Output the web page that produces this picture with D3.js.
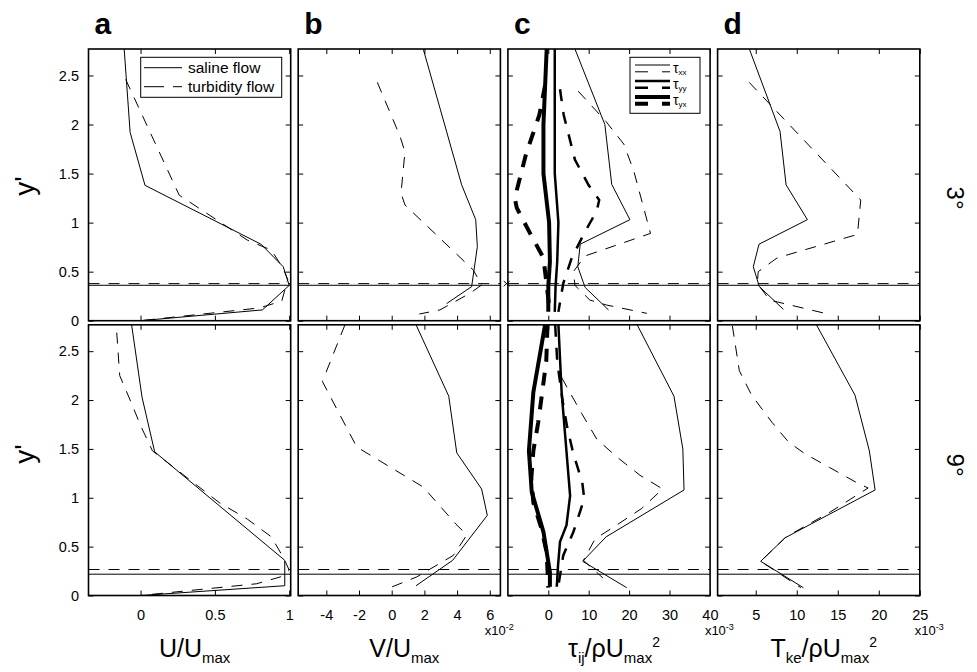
<!DOCTYPE html>
<html>
<head>
<meta charset="utf-8">
<script src="https://cdnjs.cloudflare.com/ajax/libs/d3/7.8.5/d3.min.js"></script>
<style>
  body { margin: 0; background: #fff; }
  svg { display: block; font-family: "Liberation Sans", Arial, Helvetica, sans-serif; }
</style>
</head>
<body>
<svg id="chart" width="977" height="672"></svg>
<script>
//********DATA**********//
// every profile is [value, y'] ; b is in x10^-2, c and d in x10^-3
const yTicks = [0, 0.5, 1, 1.5, 2, 2.5];
const uTicks = [0, 0.5, 1];
const vTicks = [-4, -2, 0, 2, 4, 6];
const tauTicks = [0, 10, 20, 30, 40];
const tkeTicks = [5, 10, 15, 20, 25];
const rowLabels = ['3°', '9°'];
const panelLetters = ['a', 'b', 'c', 'd'];

// a : U/Umax
const uSaline3 = [[-0.11,2.77],[-0.07,1.92],[0.03,1.38],[0.81,0.78],[0.96,0.55],[1.0,0.36],[0.82,0.11],[0,0]];
const uTurbid3 = [[-0.1,2.46],[0.26,1.28],[0.72,0.82],[0.88,0.72],[0.96,0.53],[0.99,0.42],[0.95,0.2],[0.8,0.13],[0,0]];
const uSaline9 = [[-0.06,2.77],[0.01,2.03],[0.095,1.47],[0.97,0.36],[0.97,0.1],[0,0]];
const uTurbid9 = [[-0.16,2.69],[-0.14,2.25],[-0.07,2.0],[0.0,1.74],[0.08,1.48],[0.53,0.95],[0.72,0.78],[0.88,0.6],[0.96,0.39],[1.0,0.26],[0.94,0.19],[0.78,0.12],[0,0]];

// b : V/Umax (x10^-2)
const vSaline3 = [[1.93,2.77],[4.28,1.385],[5.14,1.03],[5.24,0.755],[4.89,0.347],[3.36,0.175]];
const vTurbid3 = [[-0.88,2.43],[0.51,1.88],[0.81,1.72],[0.57,1.3],[0.81,1.18],[4.99,0.517],[5.5,0.364],[4.79,0.28],[2.95,0.11],[1.69,0.068]];
const vSaline9 = [[1.49,2.77],[3.49,2.04],[3.98,1.46],[5.5,1.09],[5.85,0.82],[3.73,0.36],[1.49,0.1]];
const vTurbid9 = [[-2.86,2.77],[-4.24,2.19],[-2.14,1.52],[1.93,1.11],[3.93,0.73],[4.6,0.62],[3.77,0.41],[1.53,0.19],[-0.1,0.08]];

// c : tau_ij/rho Umax^2 (x10^-3)
const txxSolid3 = [[6.6,2.77],[14,2.0],[15.7,1.39],[20.2,1.03],[7.9,0.78],[7.3,0.55],[9.1,0.34],[14.9,0.11]];
const txxDash3 = [[7.4,2.34],[14.3,2.03],[18.7,1.8],[21.2,1.52],[25.3,0.89],[9.1,0.66],[6.2,0.5],[6.6,0.36],[10.3,0.21],[14.4,0.16],[24.4,0.075]];
const tyySolid3 = [[1.6,2.77],[1.6,1.5],[2.5,1.0],[2.2,0.6],[1.8,0.35],[1.6,0.09]];
const tyyDash3 = [[2.9,2.36],[3.8,2.1],[6.6,1.64],[10,1.38],[12.6,1.23],[12,1.12],[9,0.9],[5.8,0.64],[3.7,0.38],[2.5,0.09]];
const tyxSolid3 = [[-0.4,2.77],[-1.2,2.0],[-1.2,1.5],[0.2,1.0],[0.4,0.6],[0,0.35],[0,0.09]];
const tyxDash3 = [[-0.8,2.4],[-2.2,2.1],[-5.5,1.7],[-8.3,1.25],[-7.8,1.15],[-4.5,0.89],[-1.2,0.64],[-0.4,0.36],[0.4,0.09]];
const txxSolid9 = [[22,2.77],[31.1,2.04],[33.3,1.5],[33.6,1.08],[14.3,0.6],[8.5,0.35],[19.4,0.08]];
const txxDash9 = [[3.3,2.23],[8.3,1.86],[12,1.6],[16.9,1.42],[22.7,1.23],[28.3,1.09],[23.1,0.89],[16.9,0.72],[11.6,0.58],[8.7,0.36],[13.5,0.18]];
const tyySolid9 = [[2.5,2.77],[3.3,2.08],[5.4,1.02],[4.5,0.72],[2.9,0.55],[2.4,0.3],[2.1,0.09]];
const tyyDash9 = [[1.7,2.77],[2.2,2.4],[3.5,2.0],[4.6,1.74],[6.2,1.45],[8.4,1.16],[8.9,0.99],[6.2,0.65],[3.7,0.41],[2.5,0.1]];
const tyxSolid9 = [[-0.8,2.77],[-3.7,2.08],[-4.8,1.48],[-4.1,1.06],[-1.2,0.65],[0.4,0.24],[0.4,0.09]];
const tyxDash9 = [[-0.2,2.77],[-0.5,2.4],[-1.6,2.05],[-2.5,1.77],[-3.7,1.48],[-4.2,1.2],[-3.7,0.95],[-1.8,0.7],[-0.4,0.44],[0,0.08]];

// d : Tke/rho Umax^2 (x10^-3)
const tkeSaline3 = [[4.22,2.77],[7.96,1.93],[8.7,1.385],[11.3,1.03],[5.4,0.78],[4.7,0.55],[5.44,0.347],[8.37,0.116]];
const tkeTurbid3 = [[4.2,2.43],[17.8,1.23],[17.4,0.88],[7.6,0.64],[5.3,0.5],[5.2,0.38],[6.7,0.21],[13.7,0.07]];
const tkeSaline9 = [[12.4,2.77],[17.1,2.05],[18.85,1.48],[19.55,1.08],[8.57,0.59],[5.6,0.35],[10.8,0.08]];
const tkeTurbid9 = [[2.15,2.76],[3.0,2.3],[4.5,2.05],[7,1.77],[9,1.57],[11,1.45],[14,1.31],[17.2,1.16],[18.7,1.1],[14,0.85],[8.7,0.6],[5.6,0.35],[10.5,0.08]];

// current head heights (y') per row
const headSaline = [0.361, 0.218];
const headTurbid = [0.378, 0.266];
const strayMark = [-10.3, 0.378];   // the lone x marker on panel c, row 1

//********LAYOUT**********//
const W = 977, H = 672;
const ROW_Y = [[49, 320.7], [324.8, 595.5]];
const COL_X = [88.5, 298.2, 507.9, 717.6];
const PANEL_W = 202.2;
const Y_MAX = 2.77;
const FONT = '"Liberation Sans", Arial, Helvetica, sans-serif';

const STYLE = {
  thin:      {w: 1,   dash: null},
  thinDash:  {w: 1,   dash: '11,9'},
  mid:       {w: 2.5, dash: null},
  midDash:   {w: 2.5, dash: '12,11'},
  thick:     {w: 4,   dash: null},
  thickDash: {w: 4,   dash: '13,11'}
};

const panels = [
  {domain: [-0.35, 1.01], ticks: uTicks, mult: null,
   title: [['U/U','n'],['max','sub']],
   series: [[[uSaline3,'thin'],[uTurbid3,'thinDash']],
            [[uSaline9,'thin'],[uTurbid9,'thinDash']]]},
  {domain: [-5.72, 6.65], ticks: vTicks, mult: '-2',
   title: [['V/U','n'],['max','sub']],
   series: [[[vSaline3,'thin'],[vTurbid3,'thinDash']],
            [[vSaline9,'thin'],[vTurbid9,'thinDash']]]},
  {domain: [-10, 40.05], ticks: tauTicks, mult: '-3',
   title: [['τ','n'],['ij','sub'],['/ρU','n'],['max','sub'],['2','sup']],
   series: [[[txxSolid3,'thin'],[txxDash3,'thinDash'],[tyySolid3,'mid'],[tyyDash3,'midDash'],[tyxSolid3,'thick'],[tyxDash3,'thickDash']],
            [[txxSolid9,'thin'],[txxDash9,'thinDash'],[tyySolid9,'mid'],[tyyDash9,'midDash'],[tyxSolid9,'thick'],[tyxDash9,'thickDash']]]},
  {domain: [0.35, 25], ticks: tkeTicks, mult: '-3',
   title: [['T','n'],['ke','sub'],['/ρU','n'],['max','sub'],['2','sup']],
   series: [[[tkeSaline3,'thin'],[tkeTurbid3,'thinDash']],
            [[tkeSaline9,'thin'],[tkeTurbid9,'thinDash']]]}
];

const svg = d3.select('#chart')
    .attr('font-family', FONT);

svg.append('rect')
    .attr('width', W)
    .attr('height', H)
    .attr('fill', '#fff');

const defs = svg.append('defs');

//********PANELS**********//
panels.forEach((p, ci) => {
  const x0 = COL_X[ci], x1 = x0 + PANEL_W;
  const x = d3.scaleLinear().domain(p.domain).range([x0, x1]);

  ROW_Y.forEach((ry, ri) => {
    const y = d3.scaleLinear().domain([0, Y_MAX]).range([ry[1], ry[0]]);
    const clipId = `clip-${ci}-${ri}`;
    defs.append('clipPath').attr('id', clipId)
      .append('rect')
        .attr('x', x0).attr('y', ry[0])
        .attr('width', PANEL_W).attr('height', ry[1] - ry[0]);

    const g = svg.append('g');
    const plot = g.append('g').attr('clip-path', `url(#${clipId})`);

    // head height lines
    plot.append('line')
        .attr('x1', x0).attr('x2', x1)
        .attr('y1', y(headTurbid[ri])).attr('y2', y(headTurbid[ri]))
        .attr('stroke', '#000').attr('stroke-width', 1)
        .attr('stroke-dasharray', STYLE.thinDash.dash);
    plot.append('line')
        .attr('x1', x0).attr('x2', x1)
        .attr('y1', y(headSaline[ri])).attr('y2', y(headSaline[ri]))
        .attr('stroke', '#000').attr('stroke-width', 1);

    const line = d3.line()
        .x(d => x(d[0]))
        .y(d => y(d[1]));

    plot.selectAll('path.profile')
      .data(p.series[ri])
      .enter().append('path')
        .attr('class', 'profile')
        .attr('d', d => line(d[0]))
        .attr('fill', 'none')
        .attr('stroke', '#000')
        .attr('stroke-width', d => STYLE[d[1]].w)
        .attr('stroke-dasharray', d => STYLE[d[1]].dash)
        .attr('stroke-linejoin', 'miter');

    // axes, ticks pointing inward on all four sides
    g.append('g')
        .attr('transform', `translate(0,${ry[1]})`)
        .call(d3.axisBottom(x).tickValues(p.ticks)
          .tickSizeInner(-5).tickSizeOuter(0).tickPadding(14)
          .tickFormat(ri === 1 ? (d => String(d)) : () => ''));
    g.append('g')
        .attr('transform', `translate(0,${ry[0]})`)
        .call(d3.axisTop(x).tickValues(p.ticks)
          .tickSizeInner(-5).tickSizeOuter(0).tickFormat(() => ''));
    g.append('g')
        .attr('transform', `translate(${x0},0)`)
        .call(d3.axisLeft(y).tickValues(yTicks)
          .tickSizeInner(-5).tickSizeOuter(0).tickPadding(9.5)
          .tickFormat(ci === 0 ? (d => String(d)) : () => ''));
    g.append('g')
        .attr('transform', `translate(${x1},0)`)
        .call(d3.axisRight(y).tickValues(yTicks)
          .tickSizeInner(-5).tickSizeOuter(0).tickFormat(() => ''));

    g.selectAll('.domain').remove();
    g.selectAll('.tick line').attr('stroke', '#000').attr('stroke-width', 1);
    g.selectAll('.tick text')
        .attr('fill', '#000')
        .attr('font-size', 14.5)
        .attr('font-family', FONT);

    g.append('rect')
        .attr('x', x0).attr('y', ry[0])
        .attr('width', PANEL_W).attr('height', ry[1] - ry[0])
        .attr('fill', 'none')
        .attr('stroke', '#000')
        .attr('stroke-width', 1.6);

    // stray marker on c, upper row
    if (ci === 2 && ri === 0) {
      const mx = x(strayMark[0]), my = y(strayMark[1]);
      g.append('path')
          .attr('d', `M${mx-3},${my-2.5}L${mx+3},${my+2.5}M${mx-3},${my+2.5}L${mx+3},${my-2.5}`)
          .attr('stroke', '#000').attr('stroke-width', 1);
    }
  });

  // panel letter
  svg.append('text')
      .attr('x', x0 + 6)
      .attr('y', 34)
      .attr('font-size', 30)
      .attr('font-weight', 'bold')
      .text(panelLetters[ci]);

  // axis title with sub/superscripts
  const title = svg.append('text')
      .attr('x', x0 + PANEL_W / 2 + 5)
      .attr('y', 657)
      .attr('text-anchor', 'middle')
      .attr('font-size', 25);
  let shift = 0;
  p.title.forEach(([s, k]) => {
    const target = k === 'sub' ? 6 : k === 'sup' ? -10 : 0;
    title.append('tspan')
        .attr('dy', target - shift)
        .attr('font-size', k === 'n' ? 25 : (k === 'sub' ? 15 : 14))
        .text(s);
    shift = target;
  });

  // exponent note
  if (p.mult) {
    const last = p.ticks[p.ticks.length - 1];
    const note = svg.append('text')
        .attr('x', x(last) - 5)
        .attr('y', 635)
        .attr('font-size', 13)
        .text('x10');
    note.append('tspan')
        .attr('dy', -5)
        .attr('font-size', 9)
        .text(p.mult);
  }
});

//********Y LABELS / ROW LABELS**********//
const yLabelY = [186, 454];
ROW_Y.forEach((ry, ri) => {
  svg.append('text')
      .attr('transform', `translate(34,${yLabelY[ri]}) rotate(-90)`)
      .attr('text-anchor', 'middle')
      .attr('font-size', 28)
      .text("y'");
  svg.append('text')
      .attr('transform', `translate(947,${ri === 0 ? 198 : 465}) rotate(90)`)
      .attr('text-anchor', 'middle')
      .attr('font-size', 24)
      .text(rowLabels[ri]);
});

//********LEGENDS**********//
(function () {
  // a : flows
  const g = svg.append('g');
  g.append('rect')
      .attr('x', 140.7).attr('y', 57.3)
      .attr('width', 141).attr('height', 40)
      .attr('fill', '#fff').attr('stroke', '#000').attr('stroke-width', 1);
  const items = [['saline flow', null], ['turbidity flow', '20,9']];
  items.forEach((it, i) => {
    const ly = 67.7 + i * 19;
    g.append('line')
        .attr('x1', 144).attr('x2', 182)
        .attr('y1', ly).attr('y2', ly)
        .attr('stroke', '#000').attr('stroke-width', 1)
        .attr('stroke-dasharray', it[1]);
    g.append('text')
        .attr('x', 188)
        .attr('y', ly + 5)
        .attr('font-size', 15.5)
        .text(it[0]);
  });
})();

(function () {
  // c : stress components
  const g = svg.append('g');
  g.append('rect')
      .attr('x', 630).attr('y', 57.3)
      .attr('width', 70).attr('height', 56)
      .attr('fill', '#fff').attr('stroke', '#000').attr('stroke-width', 1);
  const comps = [['xx', 'thin'], ['yy', 'mid'], ['yx', 'thick']];
  comps.forEach((c, i) => {
    const top = 65 + i * 16;
    g.append('line')
        .attr('x1', 635).attr('x2', 670)
        .attr('y1', top).attr('y2', top)
        .attr('stroke', '#000').attr('stroke-width', STYLE[c[1]].w);
    g.append('line')
        .attr('x1', 635).attr('x2', 670)
        .attr('y1', top + 6.8).attr('y2', top + 6.8)
        .attr('stroke', '#000').attr('stroke-width', STYLE[c[1]].w)
        .attr('stroke-dasharray', '13,14');
    const t = g.append('text')
        .attr('x', 673)
        .attr('y', top + 8)
        .attr('font-size', 14)
        .text('τ');
    t.append('tspan')
        .attr('dy', 2)
        .attr('font-size', 8)
        .text(c[0]);
  });
})();
</script>
</body>
</html>
